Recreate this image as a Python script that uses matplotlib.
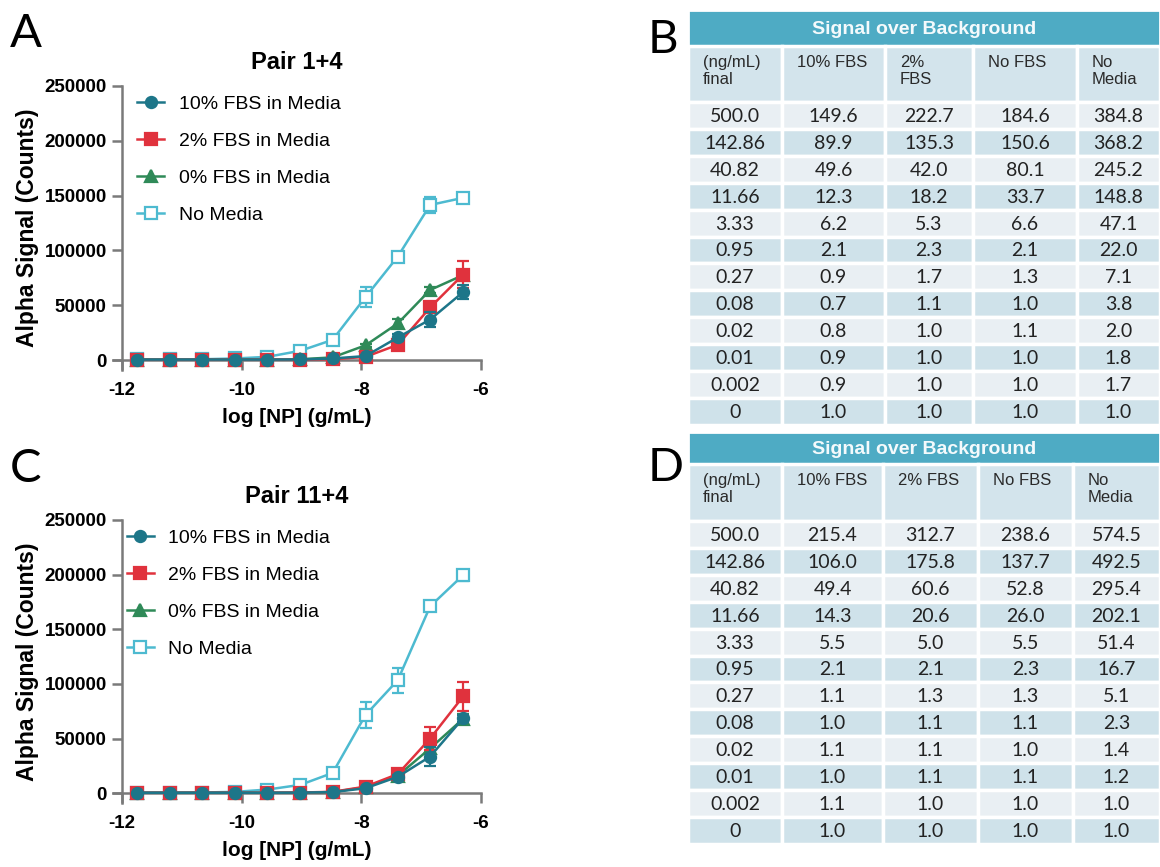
import matplotlib.pyplot as plt
from matplotlib.patches import Rectangle
from matplotlib.lines import Line2D

# ---- data ----
log_np = [-6.30, -6.85, -7.39, -7.93, -8.48, -9.02, -9.57, -10.11, -10.66, -11.19, -11.75]
series_names = ['10% FBS in Media', '2% FBS in Media', '0% FBS in Media', 'No Media']

# Pair 1+4
a_fbs10 = [62000, 37000, 20700, 3700, 1500, 600, 500, 500, 500, 500, 500]
a_fbs10_err = [6500, 6500, 3000, 1200, 300, 100, 100, 100, 100, 100, 100]
a_fbs2 = [78000, 48000, 14000, 3000, 800, 500, 500, 400, 400, 400, 400]
a_fbs2_err = [12000, 4000, 2500, 800, 200, 100, 100, 100, 100, 100, 100]
a_fbs0 = [77500, 64000, 33500, 13500, 2500, 800, 500, 500, 500, 500, 500]
a_fbs0_err = [2500, 2500, 4000, 1500, 400, 100, 100, 100, 100, 100, 100]
a_nomedia = [148000, 141500, 94500, 57500, 18500, 8500, 3000, 1500, 800, 700, 600]
a_nomedia_err = [2500, 7000, 3000, 9000, 1500, 800, 300, 100, 100, 100, 100]

# Pair 11+4
c_fbs10 = [68500, 33500, 15000, 4500, 1000, 500, 400, 400, 400, 400, 400]
c_fbs10_err = [3000, 8500, 2000, 1000, 200, 100, 100, 100, 100, 100, 100]
c_fbs2 = [88500, 50000, 17500, 6000, 1200, 600, 400, 400, 400, 400, 400]
c_fbs2_err = [13500, 10500, 2500, 1500, 300, 100, 100, 100, 100, 100, 100]
c_fbs0 = [68000, 41000, 16000, 5500, 1000, 500, 400, 400, 400, 400, 400]
c_fbs0_err = [4000, 4000, 2000, 1200, 200, 100, 100, 100, 100, 100, 100]
c_nomedia = [199500, 171000, 103500, 71500, 18500, 7600, 3300, 1200, 600, 500, 400]
c_nomedia_err = [5000, 3000, 11500, 11500, 1500, 800, 300, 100, 100, 100, 100]

# tables
conc_labels = ['500.0', '142.86', '40.82', '11.66', '3.33', '0.95', '0.27',
               '0.08', '0.02', '0.01', '0.002', '0']
b_headers = ['(ng/mL)\nfinal', '10% FBS', '2%\nFBS', 'No FBS', 'No\nMedia']
b_fbs10 = [149.6, 89.9, 49.6, 12.3, 6.2, 2.1, 0.9, 0.7, 0.8, 0.9, 0.9, 1.0]
b_fbs2 = [222.7, 135.3, 42.0, 18.2, 5.3, 2.3, 1.7, 1.1, 1.0, 1.0, 1.0, 1.0]
b_nofbs = [184.6, 150.6, 80.1, 33.7, 6.6, 2.1, 1.3, 1.0, 1.1, 1.0, 1.0, 1.0]
b_nomedia = [384.8, 368.2, 245.2, 148.8, 47.1, 22.0, 7.1, 3.8, 2.0, 1.8, 1.7, 1.0]
d_headers = ['(ng/mL)\nfinal', '10% FBS', '2% FBS', 'No FBS', 'No\nMedia']
d_fbs10 = [215.4, 106.0, 49.4, 14.3, 5.5, 2.1, 1.1, 1.0, 1.1, 1.0, 1.1, 1.0]
d_fbs2 = [312.7, 175.8, 60.6, 20.6, 5.0, 2.1, 1.3, 1.1, 1.1, 1.1, 1.0, 1.0]
d_nofbs = [238.6, 137.7, 52.8, 26.0, 5.5, 2.3, 1.3, 1.1, 1.0, 1.1, 1.0, 1.0]
d_nomedia = [574.5, 492.5, 295.4, 202.1, 51.4, 16.7, 5.1, 2.3, 1.4, 1.2, 1.0, 1.0]

# ---- styles ----
W, H = 1160, 867
c_teal = '#1d7689'
c_red = '#e0323d'
c_green = '#2f8a58'
c_light = '#4dbad0'
spine_col = '#7a7a7a'
sans = ['Liberation Sans', 'DejaVu Sans']

fig = plt.figure(figsize=(W / 100, H / 100), dpi=100)
fig.patch.set_facecolor('white')


def px_axes(x0, y0, x1, y1):
    # axes rectangle given in pixel coords (top-left origin)
    return fig.add_axes([x0 / W, 1 - y1 / H, (x1 - x0) / W, (y1 - y0) / H])


styles = [
    dict(color=c_teal, marker='o', mfc=c_teal),
    dict(color=c_red, marker='s', mfc=c_red),
    dict(color=c_green, marker='^', mfc=c_green),
    dict(color=c_light, marker='s', mfc='white'),
]


def dose_plot(y_top, y_bottom, title, curves, leg_x):
    ax = px_axes(113, y_top, 481, y_bottom)
    ax.set_xlim(-12.15, -6)
    ax.set_ylim(-9000, 250000)
    # no media first, 10% on top
    for i in [3, 2, 1, 0]:
        vals, errs = curves[i]
        st = styles[i]
        ax.errorbar(log_np, vals, yerr=errs, color=st['color'], marker=st['marker'],
                    mfc=st['mfc'], mec=st['color'], mew=1.6, ms=8, lw=1.8,
                    capsize=4, elinewidth=1.6, capthick=1.6, zorder=3 + (3 - i))
    for s in ['top', 'right']:
        ax.spines[s].set_visible(False)
    ax.spines['left'].set_position(('data', -12))
    ax.spines['bottom'].set_position(('data', 0))
    for s in ['left', 'bottom']:
        ax.spines[s].set_color(spine_col)
        ax.spines[s].set_linewidth(1.8)
    ax.set_xticks([-12, -10, -8, -6])
    ax.set_xticklabels(['-12', '-10', '-8', '-6'])
    ax.set_yticks([0, 50000, 100000, 150000, 200000, 250000])
    ax.set_yticklabels(['0', '50000', '100000', '150000', '200000', '250000'])
    ax.tick_params(length=7, width=1.8, color=spine_col, labelsize=13.5)
    ax.tick_params(axis='x', pad=9)
    ax.tick_params(axis='y', pad=4)
    for lab in ax.get_xticklabels() + ax.get_yticklabels():
        lab.set_fontweight('bold')
        lab.set_family(sans)
    ax.set_title(title, fontsize=17, fontweight='bold', family=sans, pad=12)
    ax.set_ylabel('Alpha Signal (Counts)', fontsize=16.5, fontweight='bold', family=sans,
                  labelpad=4)
    ax.set_xlabel('log [NP] (g/mL)', fontsize=15, fontweight='bold', family=sans, labelpad=6)
    handles = [Line2D([], [], color=st['color'], marker=st['marker'], mfc=st['mfc'],
                      mec=st['color'], mew=1.6, ms=8, lw=1.8) for st in styles]
    ax.legend(handles, series_names, loc='upper left', bbox_to_anchor=(leg_x, 1.015),
              frameon=False, prop={'family': sans, 'size': 14}, handlelength=1.4,
              labelspacing=1.0, handletextpad=0.75, borderaxespad=0.3)
    return ax


dose_plot(86, 370, 'Pair 1+4',
          [(a_fbs10, a_fbs10_err), (a_fbs2, a_fbs2_err), (a_fbs0, a_fbs0_err),
           (a_nomedia, a_nomedia_err)], 0.028)
dose_plot(520, 803, 'Pair 11+4',
          [(c_fbs10, c_fbs10_err), (c_fbs2, c_fbs2_err), (c_fbs0, c_fbs0_err),
           (c_nomedia, c_nomedia_err)], 0.0)


def draw_table(top, title_h, head_h, row_h, widths, headers, columns):
    x0 = 688
    total_w = sum(widths)
    total_h = title_h + head_h + row_h * len(conc_labels)
    ax = px_axes(x0, top, x0 + total_w, top + total_h)
    ax.set_xlim(0, total_w)
    ax.set_ylim(total_h, 0)
    ax.axis('off')
    ax.add_patch(Rectangle((0, 0), total_w, title_h, facecolor='#4eabc4',
                           edgecolor='white', lw=2))
    ax.text(total_w / 2, title_h / 2 + 1, 'Signal over Background', ha='center', va='center',
            color='#f4fafc', fontsize=14, fontweight='bold', family=sans)
    xs = [sum(widths[:k]) for k in range(len(widths))]
    for k, hdr in enumerate(headers):
        ax.add_patch(Rectangle((xs[k], title_h), widths[k], head_h, facecolor='#d3e4ec',
                               edgecolor='white', lw=2.5))
        ax.text(xs[k] + 15, title_h + 9, hdr, ha='left', va='top', fontsize=12,
                color='#2a2a2a', family=sans, linespacing=1.15)
    cols = [conc_labels] + [['%.1f' % v for v in c] for c in columns]
    for r in range(len(conc_labels)):
        y = title_h + head_h + r * row_h
        fc = '#e9eff3' if r % 2 == 0 else '#cfe2ea'
        for k in range(len(widths)):
            ax.add_patch(Rectangle((xs[k], y), widths[k], row_h, facecolor=fc,
                                   edgecolor='white', lw=2.5))
            ax.text(xs[k] + widths[k] / 2, y + row_h / 2 + 1, cols[k][r], ha='center',
                    va='center', fontsize=14, color='#222222', family=['Lato', 'DejaVu Sans'])


draw_table(10, 36, 56, 26.9, [94, 103, 88, 104, 83], b_headers,
           [b_fbs10, b_fbs2, b_nofbs, b_nomedia])
draw_table(432, 32, 57, 26.9, [94, 101, 95, 95, 87], d_headers,
           [d_fbs10, d_fbs2, d_nofbs, d_nomedia])

# panel letters
for letter, x, y in [('A', 10, 34), ('B', 648, 40), ('C', 10, 469), ('D', 648, 468)]:
    fig.text(x / W, 1 - y / H, letter, fontsize=34, family=['Lato', 'DejaVu Sans'],
             ha='left', va='center')

fig.savefig('out.png', dpi=100)
